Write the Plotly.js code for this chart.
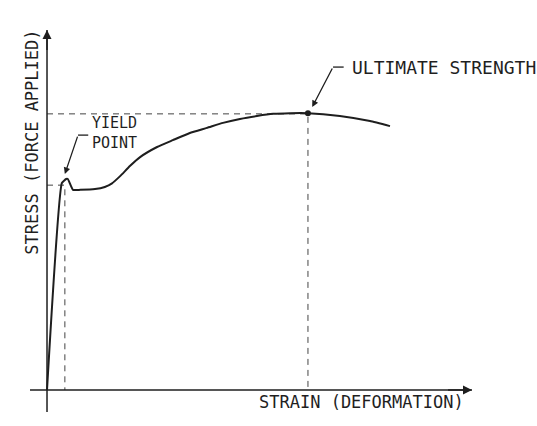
<!DOCTYPE html>
<html>
<head>
<meta charset="utf-8">
<script src="https://cdn.plot.ly/plotly-3.0.1.min.js"></script>
<style>html,body{margin:0;padding:0;background:#fff;}#chart{width:537px;height:426px;}</style>
</head>
<body>
<div id="chart"></div>
<script>
// Stress-strain curve (arbitrary units)
const strain = [0, 0.35, 0.45, 0.49, 0.61, 0.78, 1.13, 1.36, 1.53, 1.72, 1.95, 2.19, 2.59, 2.96, 3.36, 3.76, 4.14, 4.54, 4.94, 5.32, 5.72, 6.14, 6.89, 7.60, 8.07];
const stress = [0, 5.75, 5.86, 5.86, 5.56, 5.56, 5.58, 5.64, 5.74, 5.94, 6.22, 6.47, 6.75, 6.94, 7.14, 7.28, 7.42, 7.53, 7.61, 7.67, 7.69, 7.69, 7.61, 7.47, 7.33];

const yieldStrain = 0.42, yieldStress = 5.69;
const ultStrain = 6.14, ultStress = 7.67;

const xLabel = "STRAIN (DEFORMATION)";
const yLabel = "STRESS (FORCE APPLIED)";
const yieldLabel = ["YIELD", "POINT"];
const ultLabel = "ULTIMATE STRENGTH";

const ink = "#1e1e1e";
const txt = "#1f1f1f";
const fam = "DejaVu Sans Mono";

const traces = [
  {x: [0, ultStrain, ultStrain], y: [ultStress, ultStress, 0], mode: "lines",
   line: {color: "#444", width: 1, dash: "6px,5px"}, hoverinfo: "skip"},
  {x: [0, yieldStrain, yieldStrain], y: [yieldStress, yieldStress, 0], mode: "lines",
   line: {color: "#444", width: 1, dash: "6px,5px"}, hoverinfo: "skip"},
  {x: strain, y: stress, mode: "lines", line: {color: ink, width: 2, shape: "spline", smoothing: 0.4}, hoverinfo: "skip"},
  {x: [ultStrain], y: [7.69], mode: "markers", marker: {color: ink, size: 6}, hoverinfo: "skip"},
  {x: [-0.4, 10], y: [0, 0], mode: "lines", line: {color: ink, width: 1.5}, hoverinfo: "skip"},
  {x: [0, 0], y: [-0.61, 10], mode: "lines", line: {color: ink, width: 1.5}, hoverinfo: "skip"},
  {x: [0.73, 0.97], y: [7.08, 7.08], mode: "lines", line: {color: ink, width: 1.3}, hoverinfo: "skip"},
  {x: [6.73, 6.98], y: [8.97, 8.97], mode: "lines", line: {color: ink, width: 1.3}, hoverinfo: "skip"}
];

const annotations = [
  {x: 10, y: 0, ax: 9.4, ay: 0, axref: "x", ayref: "y", xref: "x", yref: "y", text: "", showarrow: true, arrowhead: 2, arrowsize: 1.2, arrowwidth: 1.5, arrowcolor: ink},
  {x: 0, y: 10, ax: 0, ay: 9.4, axref: "x", ayref: "y", xref: "x", yref: "y", text: "", showarrow: true, arrowhead: 2, arrowsize: 1.2, arrowwidth: 1.5, arrowcolor: ink},
  {x: 0.42, y: 6.0, ax: 0.73, ay: 7.08, axref: "x", ayref: "y", xref: "x", yref: "y", text: "", showarrow: true, arrowhead: 2, arrowsize: 1, arrowwidth: 1.3, arrowcolor: ink},
  {x: 6.24, y: 7.86, ax: 6.73, ay: 8.97, axref: "x", ayref: "y", xref: "x", yref: "y", text: "", showarrow: true, arrowhead: 2, arrowsize: 1, arrowwidth: 1.3, arrowcolor: ink},
  {x: 1.0, y: 7.14, xref: "x", yref: "y", text: yieldLabel.join("<br>"), showarrow: false, xanchor: "left", yanchor: "middle", align: "left", font: {family: fam, size: 15, color: txt}},
  {x: 7.13, y: 8.97, xref: "x", yref: "y", text: ultLabel, showarrow: false, xanchor: "left", yanchor: "middle", font: {family: fam, size: 18, color: txt}},
  {x: 7.41, y: -0.33, xref: "x", yref: "y", text: xLabel, showarrow: false, xanchor: "center", yanchor: "middle", font: {family: fam, size: 17, color: txt}},
  {x: -0.36, y: 6.89, xref: "x", yref: "y", text: yLabel, showarrow: false, textangle: -90, xanchor: "center", yanchor: "middle", font: {family: fam, size: 17, color: txt}}
];

const layout = {
  width: 537, height: 426,
  margin: {l: 0, r: 0, t: 0, b: 0},
  paper_bgcolor: "#fff", plot_bgcolor: "#fff",
  showlegend: false,
  xaxis: {range: [-1.106, 11.529], visible: false, fixedrange: true},
  yaxis: {range: [-1.0, 10.833], visible: false, fixedrange: true},
  annotations: annotations
};

Plotly.newPlot("chart", traces, layout, {displayModeBar: false, staticPlot: true});
</script>
</body>
</html>
